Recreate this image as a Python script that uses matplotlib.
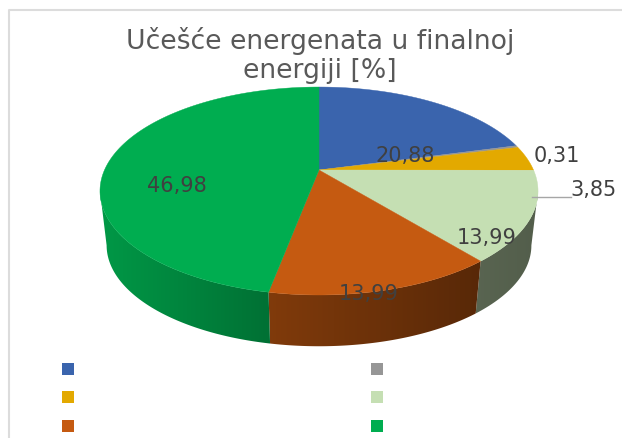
import numpy as np
import matplotlib
matplotlib.use("Agg")
import matplotlib.pyplot as plt
from matplotlib.patches import Polygon, Rectangle
from matplotlib.colors import to_rgb

# clockwise from the top of the pie
slice_values = [20.88, 0.31, 3.85, 13.99, 13.99, 46.98]
slice_colors = ["#3a64ad", "#969696", "#e3a900", "#c5dfb3", "#c55a11", "#00ad50"]
label_texts = ["20,88", "0,31", "3,85", "13,99", "13,99", "46,98"]
legend_colors = ["#3a64ad", "#e3a900", "#c55a11", "#969696", "#c5dfb3", "#00ad50"]
title_text = "Učešće energenata u finalnoj\nenergiji [%]"

# --- perspective of the tilted disc, in pixels ---
cx = 319
top_r, top_y = 214.5, 171
bottom_r, bottom_y, bottom_scale = 208, 226, 0.97
persp_a, persp_c = -65.2, 0.202


def project(t, r, y0, yscale):
    # t runs clockwise from the top of the disc
    X, Y = np.sin(t), np.cos(t)
    w = 1 + persp_c * Y
    y = (persp_a * Y + top_y) / w
    return cx + r * X / w, y0 + (y - top_y) * yscale


def top_point(t):
    return project(t, top_r, top_y, 1.0)


def bottom_point(t):
    return project(t, bottom_r, bottom_y, bottom_scale)


fig = plt.figure(figsize=(6.22, 4.39), dpi=100)
ax = fig.add_axes([0, 0, 1, 1])

# chart frame
ax.plot([8.5, 8.5, 622], [439, 11, 11], color="#dcdcdc", lw=1.5)

edges = np.cumsum([0] + slice_values) / sum(slice_values) * 2 * np.pi

# side wall, only the part between the two silhouette points shows
sil = np.arcsin(persp_c)
wall_lo, wall_hi = np.pi / 2 + sil, 3 * np.pi / 2 - sil
shade_x = np.linspace(95, 545, 450)
shade = np.interp(shade_x, [100, 270, 478, 538], [0.88, 0.65, 0.45, 0.42])

for i, col in enumerate(slice_colors):
    lo, hi = max(edges[i], wall_lo), min(edges[i + 1], wall_hi)
    if hi <= lo:
        continue
    ts = np.linspace(lo, hi, 150)
    tx, ty = top_point(ts)
    bx, by = bottom_point(ts)
    pts = np.column_stack([np.r_[tx, bx[::-1]], np.r_[ty, by[::-1]]])
    poly = Polygon(pts, closed=True, facecolor="none", edgecolor="none", transform=ax.transData)
    ax.add_patch(poly)
    grad = np.array(to_rgb(col))[None, None, :] * shade[None, :, None]
    im = ax.imshow(grad, extent=[95, 545, 360, 150], aspect="auto", interpolation="bilinear", zorder=1)
    im.set_clip_path(poly)

# top face
for i, col in enumerate(slice_colors):
    ts = np.linspace(edges[i], edges[i + 1], 120)
    xs, ys = top_point(ts)
    pts = np.column_stack([np.r_[cx, xs], np.r_[top_y, ys]])
    ax.add_patch(Polygon(pts, closed=True, facecolor=col, edgecolor=col, lw=0.3, zorder=2))

# leader line of the 3,85 label
ax.plot([532, 571], [198, 198], color="#a6a6a6", lw=1, zorder=3)

# data labels
label_pos = [(405, 156), (557, 156), (594, 190), (487, 238), (369, 294), (177, 186)]
for txt, (x, y) in zip(label_texts, label_pos):
    ax.text(x, y, txt, fontsize=15, color="#404040", ha="center", va="center",
            family="DejaVu Sans", zorder=4)

ax.text(320, 55.5, title_text, fontsize=19.2, color="#595959", ha="center", va="center",
        linespacing=1.16, family="DejaVu Sans", zorder=4)

# legend keys only, the reference shows no legend text
for i, col in enumerate(legend_colors):
    x = 62 if i < 3 else 371
    y = 364 + (i % 3) * 28.5
    ax.add_patch(Rectangle((x, y), 12, 12, facecolor=col, edgecolor="none"))

ax.set_xlim(0, 622)
ax.set_ylim(439, 0)
ax.axis("off")

fig.savefig("out.png", dpi=100)
